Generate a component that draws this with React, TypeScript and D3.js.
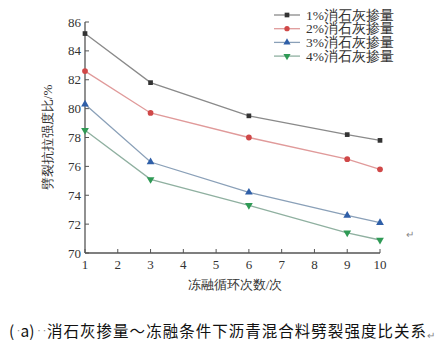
import React from "react";
import * as d3 from "d3";

const cycles = [1, 3, 6, 9, 10];
const seriesNames = ["1%消石灰掺量", "2%消石灰掺量", "3%消石灰掺量", "4%消石灰掺量"];
const s1 = [85.2, 81.8, 79.5, 78.2, 77.8];
const s2 = [82.6, 79.7, 78.0, 76.5, 75.8];
const s3 = [80.3, 76.3, 74.2, 72.6, 72.1];
const s4 = [78.5, 75.1, 73.3, 71.4, 70.9];
const xTicks = [1, 2, 3, 4, 5, 6, 7, 8, 9, 10];
const yTicks = [70, 72, 74, 76, 78, 80, 82, 84, 86];

const lineColors = ["#8a8a8a", "#e09a9a", "#8aa0b8", "#8fb0a0"];
const markerColors = ["#333333", "#d04848", "#2f5fa8", "#2f9a55"];
const symbols = [d3.symbolSquare, d3.symbolCircle, d3.symbolTriangle, d3.symbolTriangle];

export default function App() {
  const x = d3.scaleLinear().domain([1, 10]).range([85, 380]);
  const y = d3.scaleLinear().domain([70, 86]).range([253, 22]);
  const all = [s1, s2, s3, s4];
  const line = d3.line<number>().x((_, i) => x(cycles[i])).y((d) => y(d));
  const serif = "'Liberation Serif', 'DejaVu Serif', serif";
  const cjk = "'Noto Sans CJK SC', sans-serif";
  return (
    <svg width={442} height={357} style={{ position: "absolute", left: 0, top: 0, background: "#fff" }}>
      <line x1={85} y1={y(70)} x2={85} y2={y(86)} stroke="#555" strokeWidth={1.3} />
      <line x1={85} y1={y(70)} x2={380} y2={y(70)} stroke="#555" strokeWidth={1.3} />
      {yTicks.map((t) => (
        <g key={"y" + t}>
          <line x1={85} x2={89} y1={y(t)} y2={y(t)} stroke="#555" strokeWidth={1} />
          <text x={81} y={y(t)} dy="0.35em" textAnchor="end" fontFamily={serif} fontSize={13} fill="#333">{t}</text>
        </g>
      ))}
      {xTicks.map((t) => (
        <g key={"x" + t}>
          <line x1={x(t)} x2={x(t)} y1={y(70)} y2={y(70) - 4} stroke="#555" strokeWidth={1} />
          <text x={x(t)} y={y(70) + 16} textAnchor="middle" fontFamily={serif} fontSize={13} fill="#333">{t}</text>
        </g>
      ))}
      <text x={235} y={289} textAnchor="middle" fontFamily={serif} fontSize={13} fill="#333">冻融循环次数/次</text>
      <text transform={`translate(52,${y(78)}) rotate(-90)`} textAnchor="middle" fontFamily={serif} fontSize={13} fill="#333">劈裂抗拉强度比/%</text>
      {all.map((s, k) => (
        <g key={"s" + k}>
          <path d={line(s) || ""} fill="none" stroke={lineColors[k]} strokeWidth={1.3} />
          {s.map((v, i) => (
            <path
              key={i}
              d={d3.symbol().type(symbols[k]).size(k === 0 ? 22 : 26)() || ""}
              transform={`translate(${x(cycles[i])},${y(v)})${k === 3 ? " rotate(180)" : ""}`}
              fill={markerColors[k]}
            />
          ))}
        </g>
      ))}
      {seriesNames.map((n, k) => {
        const ly = 15 + k * 13.7;
        return (
          <g key={"l" + k}>
            <line x1={274} x2={300} y1={ly} y2={ly} stroke={lineColors[k]} strokeWidth={1.3} />
            <path d={d3.symbol().type(symbols[k]).size(22)() || ""} transform={`translate(287,${ly})${k === 3 ? " rotate(180)" : ""}`} fill={markerColors[k]} />
            <text x={306} y={ly} dy="0.35em" fontFamily={serif} fontSize={13.5} fill="#333">{n}</text>
          </g>
        );
      })}
      <text x={406} y={238} fontFamily={cjk} fontSize={10} fill="#888">↵</text>
      <text x={9} y={337} fontFamily={cjk} fontSize={15.5} fill="#111">(</text>
      <text x={15.5} y={333} fontFamily={cjk} fontSize={6} fill="#888">•</text>
      <text x={20.5} y={337} fontFamily={cjk} fontSize={15.5} fill="#111">a)</text>
      <text x={36} y={333} fontFamily={cjk} fontSize={6} fill="#888" letterSpacing={-0.5}>••</text>
      <text x={47} y={337} fontFamily={cjk} fontSize={15.5} fill="#111" textLength={379} lengthAdjust="spacing">消石灰掺量～冻融条件下沥青混合料劈裂强度比关系</text>
      <text x={427} y={339} fontFamily={cjk} fontSize={10} fill="#888">↵</text>
    </svg>
  );
}
